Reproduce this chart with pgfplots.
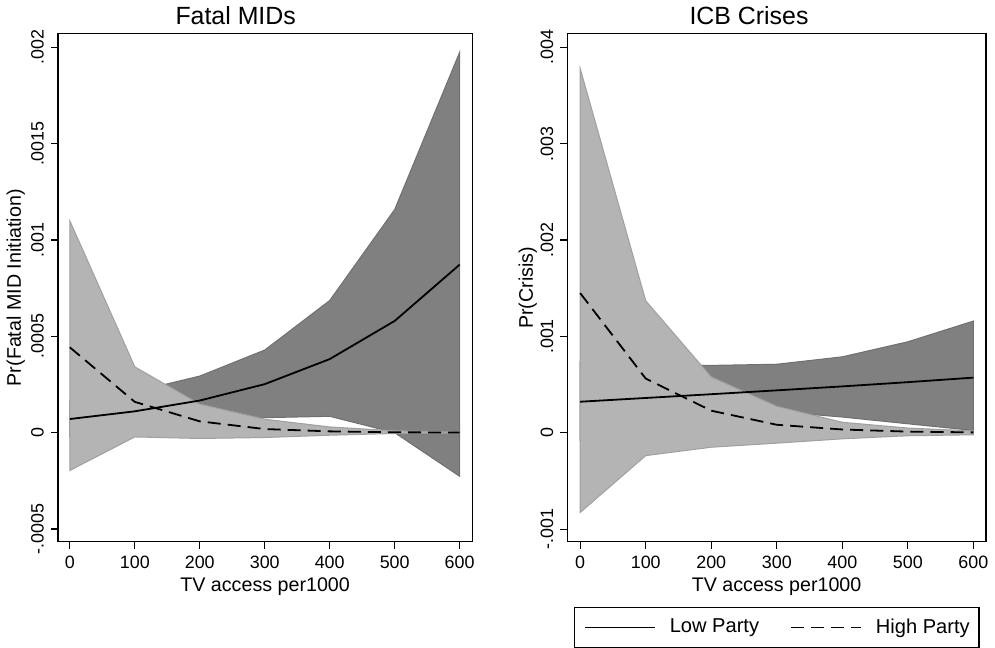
\documentclass[border=0pt]{standalone}
\usepackage{fontspec}
\setmainfont{Liberation Sans}
\usepackage{pgfplots}
\pgfplotsset{compat=1.18}
\usepackage{pgfplotstable}

\definecolor{bandlow}{RGB}{128,128,128}
\definecolor{bandlowedge}{RGB}{112,112,112}
\definecolor{bandhigh}{RGB}{180,180,180}
\definecolor{bandhighedge}{RGB}{160,160,160}

% predicted probabilities, Fatal MIDs
\pgfplotstableread{
x   low      high
0   0.000071 0.000443
100 0.000111 0.000160
200 0.000167 0.000059
300 0.000252 0.000019
400 0.000382 0.000007
500 0.000580 0.000002
600 0.000872 0.000001
}\fatal
% bands as closed outlines: upper bound 0..600, then lower bound 600..0
\pgfplotstableread{
x   lowband    highband
0   0.000165   0.001100
100 0.000213   0.000342
200 0.000294   0.000148
300 0.000429   0.000070
400 0.000686   0.000030
500 0.001158   0.000010
600 0.001974   0.000003
600 -0.000226  -0.000001
500 0.000000   -0.000004
400 0.000085   -0.000013
300 0.000078   -0.000025
200 0.000040   -0.000030
100 0.000010   -0.000022
0   -0.000020  -0.000196
}\fatalband

% ICB crises
\pgfplotstableread{
x   low      high
0   0.000323 0.001450
100 0.000362 0.000563
200 0.000401 0.000230
300 0.000441 0.000084
400 0.000482 0.000035
500 0.000526 0.000013
600 0.000573 0.000005
}\icb
\pgfplotstableread{
x   lowband    highband
0   0.000740   0.003780
100 0.000710   0.001370
200 0.000700   0.000580
300 0.000712   0.000275
400 0.000789   0.000110
500 0.000945   0.000050
600 0.001160   0.000020
600 0.000025   -0.000020
500 0.000094   -0.000030
400 0.000164   -0.000062
300 0.000220   -0.000107
200 0.000120   -0.000149
100 0.000020   -0.000236
0   -0.000080  -0.000826
}\icbband

\pgfplotsset{
  stata/.style={
    scale only axis,
    height=253pt,
    axis x line*=bottom, axis y line*=left,
    axis line style={black, line width=0.7pt},
    tick align=outside,
    major tick length=3.5pt,
    tick style={black, line width=0.6pt},
    xtick={0,100,...,600},
    scaled y ticks=false,
    /pgf/number format/assume math mode=true,
    tick label style={font=\fontsize{8.9}{10}\selectfont},
    yticklabel style={rotate=90, anchor=south},
    label style={font=\fontsize{9.8}{11}\selectfont},
    every axis title shift=0pt,
    title style={font=\fontsize{12.4}{14}\selectfont, anchor=base},
    xlabel style={at={([yshift=-24.85pt]axis description cs:0.5,0)}, anchor=base},
    xlabel={TV access per1000},
  },
  lowline/.style={black, line width=0.9pt},
  highline/.style={black, line width=0.9pt, dash pattern=on 6.5pt off 3.5pt},
}

\begin{document}
\begin{tikzpicture}
\begin{axis}[
  stata,
  at={(32.85pt,50.85pt)}, anchor=south west,
  width=206.5pt,
  xmin=-18.5, xmax=619.7,
  ymin=-0.000566, ymax=0.00207,
  ytick={-0.0005,0,0.0005,0.001,0.0015,0.002},
  yticklabels={-.0005,0,.0005,.001,.0015,.002},
  title={Fatal MIDs},
  title style={at={([yshift=4.5pt]axis description cs:0.429,1)}},
  ylabel={Pr(Fatal MID Initiation)},
  ylabel style={at={([xshift=-18.35pt]axis description cs:0,0.5)}, anchor=base},
]
\addplot[fill=bandlow, draw=bandlowedge, line width=0.5pt, forget plot] table[x=x, y=lowband] {\fatalband} -- cycle;
\addplot[fill=bandhigh, draw=bandhighedge, line width=0.5pt, forget plot] table[x=x, y=highband] {\fatalband} -- cycle;
\addplot[lowline] table[x=x, y=low] {\fatal};
\addplot[highline] table[x=x, y=high] {\fatal};
\end{axis}
\draw[black, line width=0.7pt] (32.85pt,50.85pt) rectangle ++(206.5pt,253pt);

\begin{axis}[
  stata,
  at={(286.65pt,50.85pt)}, anchor=south west,
  width=208.35pt,
  xmin=-19.5, xmax=618.9,
  ymin=-0.00113, ymax=0.00414,
  ytick={-0.001,0,0.001,0.002,0.003,0.004},
  yticklabels={-.001,0,.001,.002,.003,.004},
  title={ICB Crises},
  title style={at={([yshift=4.5pt]axis description cs:0.434,1)}},
  ylabel={Pr(Crisis)},
  ylabel style={at={([xshift=-17.2pt]axis description cs:0,0.5)}, anchor=base},
  legend columns=2,
  legend style={at={(axis description cs:0.016,-0.1285)}, anchor=north west,
    draw=black, line width=0.6pt, inner xsep=4.65pt, inner ysep=5.5pt,
    font=\fontsize{10}{12}\selectfont,
    nodes={inner xsep=0pt, inner ysep=0pt},
    /tikz/every odd column/.append style={column sep=6.8pt},
    /tikz/every even column/.append style={column sep=15.5pt}},
  legend image code/.code={\draw[#1] (0pt,0pt) -- (35pt,0pt);},
]
\addplot[fill=bandlow, draw=bandlowedge, line width=0.5pt, forget plot] table[x=x, y=lowband] {\icbband} -- cycle;
\addplot[fill=bandhigh, draw=bandhighedge, line width=0.5pt, forget plot] table[x=x, y=highband] {\icbband} -- cycle;
\addplot[lowline] table[x=x, y=low] {\icb};
\addlegendentry{Low Party}
\addplot[highline] table[x=x, y=high] {\icb};
\addlegendentry{High Party}
\end{axis}
\draw[black, line width=0.7pt] (286.65pt,50.85pt) rectangle ++(208.35pt,253pt);
\end{tikzpicture}
\end{document}
